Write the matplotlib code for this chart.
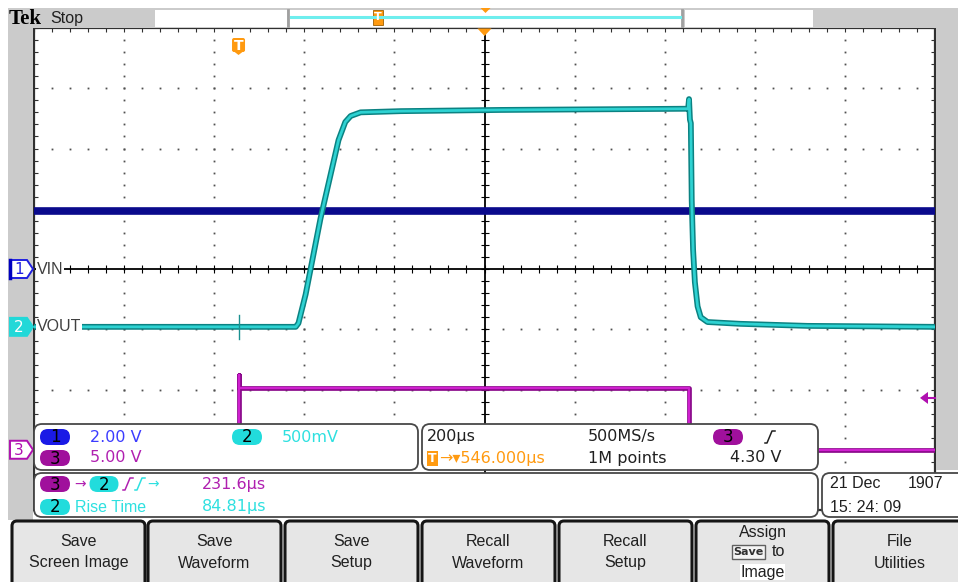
import numpy as np
import matplotlib
matplotlib.use('Agg')
import matplotlib.pyplot as plt
from matplotlib import font_manager
from matplotlib.patches import Rectangle, FancyBboxPatch, Polygon

# scope settings
time_per_div = 200.0      # us / div
trig_offset = 546.0       # us, screen centre after the trigger
ch1_scale, ch2_scale, ch3_scale = 2.0, 0.5, 5.0   # V / div
ch1_pos, ch2_pos, ch3_pos = 0.0, -0.96, -3.0      # ground marker, divisions
trig_level = 4.30         # V on ch3

# CH1 VIN (flat)
ch1_t = [-454, 1546]
ch1_v = [1.94, 1.94]

# CH2 VOUT
ch2_t = [-454, 127, 133, 149, 182, 222, 237, 249, 271, 360, 582, 998, 1000,
         1002, 1004, 1006, 1009, 1013, 1019, 1026, 1041, 1114, 1263, 1546]
ch2_v = [0.0, 0.0, 0.03, 0.27, 0.90, 1.55, 1.70, 1.75, 1.78, 1.79, 1.80, 1.81, 1.89,
         1.72, 1.69, 1.05, 0.64, 0.37, 0.17, 0.08, 0.04, 0.025, 0.008, 0.0]

# CH3 enable pulse
ch3_t = [-454, 0, 0, 0, 1001, 1001, 1546]
ch3_v = [0.0, 0.0, 6.2, 5.1, 5.1, 0.0, 0.0]

# narrow UI font if there is one
installed = {f.name for f in font_manager.fontManager.ttflist}
if 'Liberation Sans Narrow' in installed:
    NARROW, NS = ['Liberation Sans Narrow', 'DejaVu Sans'], 13
else:
    NARROW, NS = ['Liberation Sans', 'DejaVu Sans'], 11.5
READ = ['DejaVu Sans']

W, H = 958, 582
fig = plt.figure(figsize=(W / 100, H / 100), dpi=100)
fig.patch.set_facecolor('white')

# graticule
gx0, gx1, gy0, gy1 = 34, 935, 28, 510
ax = fig.add_axes([gx0 / W, 1 - gy1 / H, (gx1 - gx0) / W, (gy1 - gy0) / H], zorder=1)
ax.set_xlim(trig_offset - 5 * time_per_div, trig_offset + 5 * time_per_div)
ax.set_ylim(-4, 4)
for s in ax.spines.values():
    s.set_color('#303030')
    s.set_linewidth(1.6)
ax.set_xticks(np.linspace(*ax.get_xlim(), 51))
ax.set_yticks(np.linspace(-4, 4, 41))
ax.tick_params(direction='in', length=3, width=0.8, color='#303030', top=True, right=True,
               labelbottom=False, labelleft=False)

tf = ax.transAxes
for k in range(1, 10):
    if k == 5:
        continue
    ys = np.arange(1, 40) / 40
    ax.plot(np.full_like(ys, k / 10), ys, ls='none', marker='s', ms=1.3, mew=0,
            color='#505050', transform=tf, zorder=1)
for j in range(1, 8):
    if j == 4:
        continue
    xs = np.arange(1, 50) / 50
    ax.plot(xs, np.full_like(xs, j / 8), ls='none', marker='s', ms=1.3, mew=0,
            color='#505050', transform=tf, zorder=1)
# centre cross
ax.plot([0, 1], [0.5, 0.5], color='black', lw=1.3, transform=tf, zorder=2)
ax.plot([0.5, 0.5], [0, 1], color='black', lw=1.3, transform=tf, zorder=2)
xs = np.arange(1, 50) / 50
ax.plot(xs, np.full_like(xs, 0.5), ls='none', marker='|', ms=6, mew=0.8, color='black',
        transform=tf, zorder=2)
ys = np.arange(1, 40) / 40
ax.plot(np.full_like(ys, 0.5), ys, ls='none', marker='_', ms=6, mew=0.8, color='black',
        transform=tf, zorder=2)


def to_div(v, scale, pos):
    return np.asarray(v, dtype=float) / scale + pos


# traces
ax.plot(ch3_t, to_div(ch3_v, ch3_scale, ch3_pos), color='#8a0a8a', lw=3.4, zorder=3)
ax.plot(ch3_t, to_div(ch3_v, ch3_scale, ch3_pos), color='#d020d0', lw=1.6, zorder=3)
ax.plot(ch1_t, to_div(ch1_v, ch1_scale, ch1_pos), color='#0a0a8c', lw=5.5, zorder=4)
ax.plot(ch2_t, to_div(ch2_v, ch2_scale, ch2_pos), color='#0b8282', lw=4.2, zorder=5)
ax.plot(ch2_t, to_div(ch2_v, ch2_scale, ch2_pos), color='#2ed2d2', lw=2.0, zorder=5)
ax.plot([0, 0], [ch2_pos - 0.2, ch2_pos + 0.2], color='#1a9090', lw=1.0, zorder=5)

# ---- screen furniture -------------------------------------------------
ov = fig.add_axes([0, 0, 1, 1], zorder=5)
ov.set_xlim(0, W)
ov.set_ylim(H, 0)
ov.axis('off')


def to_px(t, d):
    X, Y = ax.transData.transform((t, d))
    return X, H - Y


GRAY = '#cbcbcb'
ov.add_patch(Rectangle((8, 8), W - 8, 20, fc=GRAY, ec='none'))
ov.add_patch(Rectangle((8, 8), 25.5, 512, fc=GRAY, ec='none'))
ov.add_patch(Rectangle((936.5, 8), 22, 462, fc=GRAY, ec='none'))
ov.add_patch(Rectangle((155, 9.5), 132, 17, fc='white', ec='none'))
ov.add_patch(Rectangle((289, 9.5), 393, 17, fc='white', ec='none'))
ov.add_patch(Rectangle((685, 9.5), 128, 17, fc='white', ec='none'))
ov.plot([288, 288], [10, 26], color='#a0a0a0', lw=2)
ov.plot([682, 682], [10, 26], color='#a0a0a0', lw=2)
ov.plot([291, 680], [16.5, 16.5], color='#6eeeee', lw=2.2)
ov.text(9, 19, 'Tek', family=['Liberation Serif', 'DejaVu Serif'], weight='bold',
        size=15, va='center', ha='left', color='black')
ov.text(50, 18, 'Stop', family=NARROW, size=NS, va='center', ha='left', color='#202020')

# record-view trigger marker and centre marker
xr = 289 + (to_px(0, 0)[0] - gx0) / (gx1 - gx0) * 393
ov.add_patch(Rectangle((xr - 5, 10), 10, 15, fc='#ff9a10', ec='#a06000', lw=0.6))
ov.text(xr, 17.5, 'T', color='white', size=8, weight='bold', ha='center', va='center')
xc = 289 + 0.5 * 393
ov.add_patch(Polygon([(xc - 5, 8), (xc + 5, 8), (xc, 13)], fc='#ff9a10', ec='none'))

# graticule trigger markers
xt = to_px(0, 0)[0]
ov.add_patch(FancyBboxPatch((xt - 6.5, 38), 13, 14, boxstyle='round,pad=0,rounding_size=2',
                            fc='#ff9a10', ec='none'))
ov.add_patch(Polygon([(xt - 6.5, 50), (xt + 6.5, 50), (xt, 55)], fc='#ff9a10', ec='none'))
ov.text(xt, 45.5, 'T', color='white', size=10, weight='bold', ha='center', va='center')
xm = to_px(trig_offset, 0)[0]
ov.add_patch(Polygon([(xm - 7, 28.5), (xm + 7, 28.5), (xm, 36)], fc='#ff9a10', ec='none'))
yl = to_px(0, to_div(trig_level, ch3_scale, ch3_pos))[1]
ov.add_patch(Polygon([(920, yl), (928, yl - 6), (928, yl + 6)], fc='#b010b0', ec='none'))
ov.plot([927, 935], [yl, yl], color='#b010b0', lw=1.5)

# channel ground markers and labels
for pos, num, col, filled in [(ch1_pos, '1', '#2020e0', False), (ch2_pos, '2', '#22d8d8', True),
                              (ch3_pos, '3', '#b010b0', False)]:
    y = to_px(0, pos)[1]
    pts = [(10, y - 9), (27, y - 9), (33, y), (27, y + 9), (10, y + 9)]
    ov.add_patch(Polygon(pts, fc=col if filled else 'white', ec=col, lw=1.4))
    if num == '1':
        ov.plot([10.5, 10.5], [y - 9, y + 9], color='#0000c0', lw=2.5)
    ov.text(19, y + 0.5, num, size=11, family=READ, ha='center', va='center',
            color='white' if filled else col)
ov.text(37, to_px(0, ch1_pos)[1], 'VIN', family=NARROW, size=NS, va='center', ha='left',
        color='#404040', bbox=dict(fc='white', ec='none', pad=0.6))
ov.text(37, to_px(0, ch2_pos)[1], 'VOUT', family=NARROW, size=NS, va='center', ha='left',
        color='#404040', bbox=dict(fc='white', ec='none', pad=0.6))


def rbox(x0, y0, x1, y1, r=8):
    ov.add_patch(FancyBboxPatch((x0, y0), x1 - x0, y1 - y0,
                                boxstyle='round,pad=0,rounding_size=%g' % r,
                                fc='white', ec='#484848', lw=1.3))


def pill(xc_, yc, txt, col, w=30, h=16):
    ov.add_patch(FancyBboxPatch((xc_ - w / 2, yc - h / 2), w, h,
                                boxstyle='round,pad=0,rounding_size=%g' % (h / 2),
                                fc=col, ec='none'))
    ov.text(xc_, yc + 0.5, txt, size=12, family=READ, ha='center', va='center', color='black')


def slope(x0, yc, col):
    ov.plot([x0, x0 + 2, x0 + 7, x0 + 10], [yc + 6, yc + 6, yc - 6, yc - 6], color=col, lw=1.1)


BLUE, CYAN, MAG, ORANGE, INK = '#3c3cff', '#2ee0e0', '#b020b0', '#ff9a10', '#202020'
R1, R2, R3, R4 = 437, 458, 484, 507

rbox(34, 424, 418, 470)
rbox(422, 424, 818, 470)
rbox(34, 473, 818, 517)
rbox(822, 473, 975, 517)

pill(55, R1, '1', '#1a1ae6')
ov.text(90, R1, '2.00 V', size=11.5, family=READ, color=BLUE, va='center')
pill(247, R1, '2', '#22dcdc')
ov.text(282, R1, '500mV', size=11.5, family=READ, color=CYAN, va='center')
pill(55, R2, '3', '#a0109c')
ov.text(90, R2, '5.00 V', size=11.5, family=READ, color=MAG, va='center')

ov.text(427, R1, '200µs', size=11.5, family=READ, color=INK, va='center')
ov.text(588, R1, '500MS/s', size=11.5, family=READ, color=INK, va='center')
pill(728, R1, '3', '#a0109c')
slope(765, R1, INK)
ov.add_patch(Rectangle((427, R2 - 7.5), 11, 15, fc=ORANGE, ec='none'))
ov.text(432.5, R2, 'T', size=9, weight='bold', color='white', ha='center', va='center')
ov.text(439, R2, '→▾546.000µs', size=11.5, family=READ, color=ORANGE, va='center')
ov.text(588, R2, '1M points', size=11.5, family=READ, color=INK, va='center')
ov.text(730, R2, '4.30 V', size=11.5, family=READ, color=INK, va='center')

pill(55, R3, '3', '#a0109c')
ov.text(74, R3, '→', size=10, family=READ, color=MAG, va='center')
pill(104, R3, '2', '#22dcdc', w=29)
slope(123, R3, MAG)
slope(135, R3, CYAN)
ov.text(147, R3, '→', size=10, family=READ, color=CYAN, va='center')
ov.text(202, R3, '231.6µs', size=11.5, family=READ, color=MAG, va='center')
pill(55, R4, '2', '#22dcdc')
ov.text(75, R4, 'Rise Time', size=NS, family=NARROW, color=CYAN, va='center')
ov.text(202, R4, '84.81µs', size=11.5, family=READ, color=CYAN, va='center')

ov.text(830, R3, '21 Dec', size=NS, family=NARROW, color=INK, va='center')
ov.text(908, R3, '1907', size=NS, family=NARROW, color=INK, va='center')
ov.text(830, R4, '15: 24: 09', size=NS, family=NARROW, color=INK, va='center')

# soft keys
btn_left = [12, 148, 285, 422, 559, 696, 833]
btn_text = [('Save', 'Screen Image'), ('Save', 'Waveform'), ('Save', 'Setup'),
            ('Recall', 'Waveform'), ('Recall', 'Setup'), None, ('File', 'Utilities')]
for x0, lab in zip(btn_left, btn_text):
    ov.add_patch(FancyBboxPatch((x0, 521), 133, 70, boxstyle='round,pad=0,rounding_size=5',
                                fc='#e6e6e6', ec='#151515', lw=2.2))
    cx = x0 + 66.5
    if lab is None:
        ov.text(cx, 532, 'Assign', size=NS, family=NARROW, color=INK, ha='center', va='center')
        ov.text(cx - 14, 552, 'Save', size=8, weight='bold', family=READ, color='#303030',
                ha='center', va='center',
                bbox=dict(fc='#f4f4f4', ec='#606060', lw=1.0, pad=1.2))
        ov.text(cx + 16, 552, 'to', size=NS, family=NARROW, color=INK, ha='center', va='center')
        ov.text(cx, 572, 'Image', size=NS, family=NARROW, color=INK, ha='center', va='center',
                bbox=dict(fc='white', ec='none', pad=0.5))
    else:
        ov.text(cx, 542, lab[0], size=NS, family=NARROW, color=INK, ha='center', va='center')
        ov.text(cx, 563, lab[1], size=NS, family=NARROW, color=INK, ha='center', va='center')

fig.savefig('out.png', dpi=100)
